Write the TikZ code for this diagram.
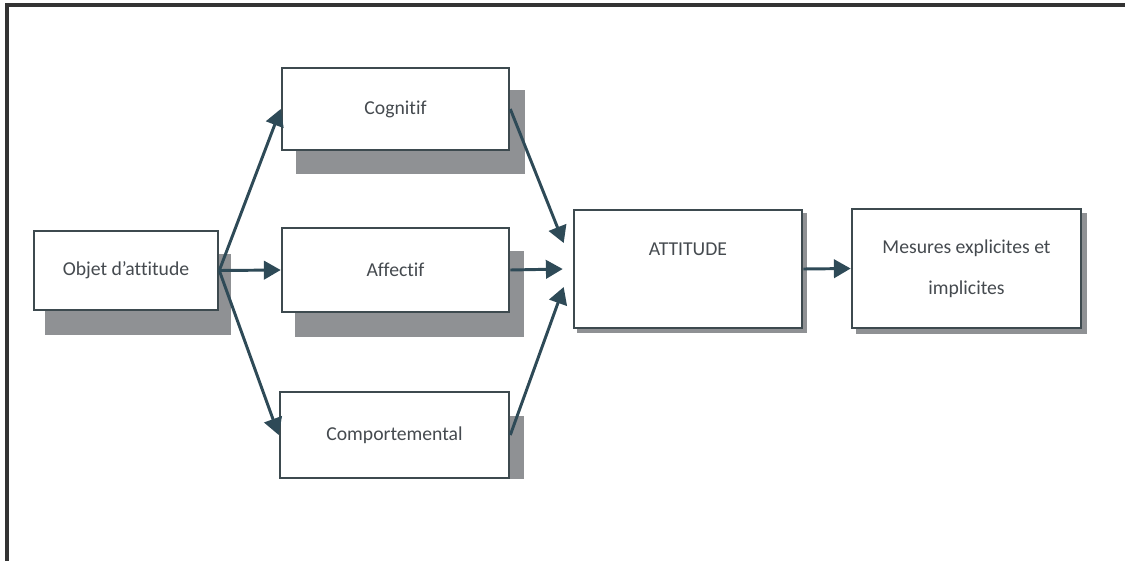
\documentclass[tikz,border=0pt]{standalone}
\usepackage{fontspec}
\setmainfont{Carlito}[Ligatures=NoCommon]
\usetikzlibrary{arrows.meta,calc,backgrounds}
\definecolor{boxline}{rgb}{0.24, 0.29, 0.31}
\definecolor{arrowcol}{rgb}{0.18, 0.29, 0.34}
\definecolor{shadowgray}{rgb}{0.56, 0.57, 0.58}
\definecolor{textgray}{rgb}{0.27, 0.29, 0.31}

\begin{document}
\begin{tikzpicture}[x=0.025cm, y=-0.025cm,
  box/.style={draw=boxline, line width=1.8pt, fill=white, text=textgray, font=\fontsize{14}{17}\selectfont},
  link/.style={draw=arrowcol, line width=2.1pt, -{Triangle[length=0.42cm, width=0.46cm]}},
  shadow/.style={fill=shadowgray}]

\useasboundingbox (0,0) rectangle (1125,561);

%frame
\draw[line width=2.2pt, color=black!80] (1125,5) -- (7,5) -- (7,561);

%boxes
\node[box, minimum width=4.6cm, minimum height=1.975cm] at (126, 270.5)(obj){Objet d'attitude};
\node[box, minimum width=5.675cm, minimum height=2.05cm] at (395.5, 109)(cog){Cognitif};
\node[box, minimum width=5.675cm, minimum height=2.1cm] at (395.5, 270)(aff){Affectif};
\node[box, minimum width=5.725cm, minimum height=2.15cm] at (394.5, 435)(comp){Comportemental};
\node[box, minimum width=5.7cm, minimum height=2.95cm,
  label={[anchor=north, text=textgray, font=\fontsize{14}{17}\selectfont, yshift=-0.72cm]north:ATTITUDE}] at (688, 269)(att){};
\node[box, minimum width=5.725cm, minimum height=2.975cm, align=center] at (966.5, 268.5)(mes){Mesures explicites et\\[12pt]implicites};

%shadows
\begin{scope}[on background layer]
\fill[shadow] ([shift={(12,24)}]obj.south west) rectangle ([shift={(12,24)}]obj.north east);
\fill[shadow] ([shift={(15,23)}]cog.south west) rectangle ([shift={(15,23)}]cog.north east);
\fill[shadow] ([shift={(14,24)}]aff.south west) rectangle ([shift={(14,24)}]aff.north east);
\fill[shadow] ([shift={(0,25)}]comp.north east) rectangle ([shift={(14,0)}]comp.south east);
\fill[shadow] ([shift={(4,4)}]att.south west) rectangle ([shift={(4,4)}]att.north east);
\fill[shadow] ([shift={(5,5)}]mes.south west) rectangle ([shift={(5,5)}]mes.north east);
\end{scope}

%entry points
\coordinate (inA) at ($(att.west)+(-9,-26)$);
\coordinate (inB) at ($(att.west)+(-10,0)$);
\coordinate (inC) at ($(att.west)+(-9,18)$);

%arrows
\draw[link] (obj.east) -- (cog.west);
\draw[link] (obj.east) -- (aff.west);
\draw[link] (obj.east) -- (comp.west);
\draw[link] (cog.east) -- (inA);
\draw[link] (aff.east) -- (inB);
\draw[link] (comp.east) -- (inC);
\draw[link] (att.east) -- (mes.west);

\end{tikzpicture}
\end{document}
